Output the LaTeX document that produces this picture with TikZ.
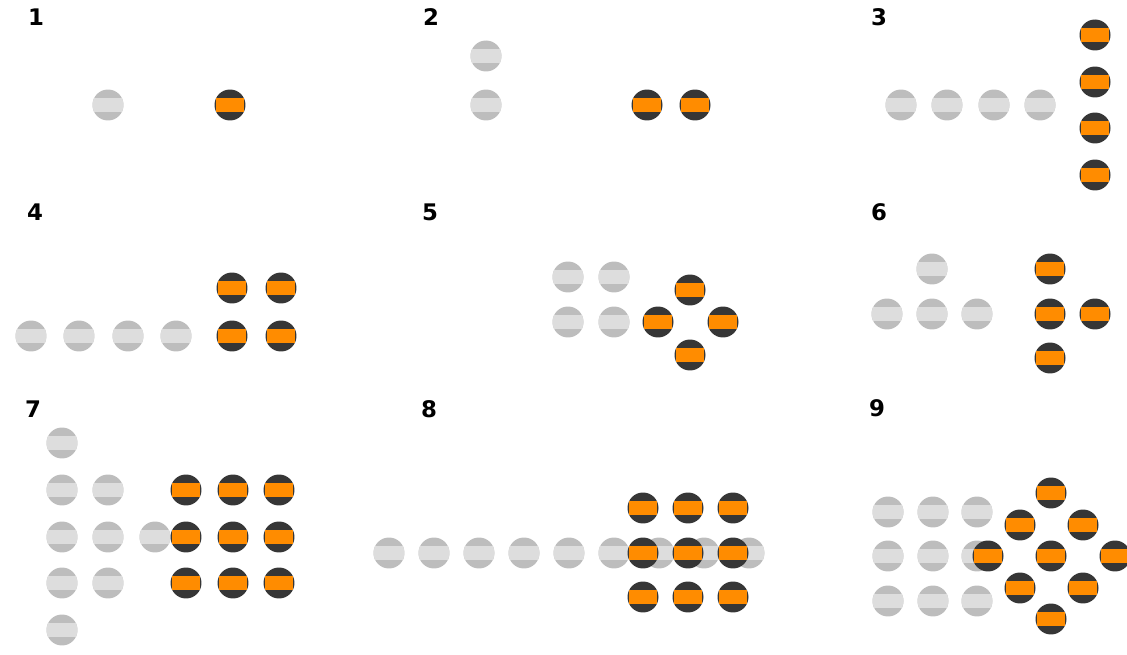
\documentclass[tikz,border=0pt]{standalone}
\usepackage{fontspec}
\setmainfont{DejaVu Sans}
\usepackage{xcolor}
\usepackage{tikz}
\usetikzlibrary{positioning,calc}

\definecolor{idlegrey}{HTML}{BDBDBD}
\definecolor{idleband}{HTML}{DDDDDD}
\definecolor{busydark}{HTML}{363636}
\definecolor{busyband}{HTML}{FF8C00}

\begin{document}
\begin{tikzpicture}[
        x=0.02cm, y=-0.02cm,
        tag/.style={font=\fontsize{13}{15}\selectfont\bfseries, inner sep=0pt},
        idle/.style={circle, fill=idlegrey, minimum size=0.62cm, inner sep=0pt,
            path picture={\fill[idleband] ([shift={(-16,-7)}]path picture bounding box.center) rectangle ([shift={(16,7)}]path picture bounding box.center);}},
        busy/.style={circle, fill=busydark, minimum size=0.62cm, inner sep=0pt,
            path picture={\fill[busyband] ([shift={(-14,-7)}]path picture bounding box.center) rectangle ([shift={(14,7)}]path picture bounding box.center);}}
    ]
    \useasboundingbox (0,0) rectangle (1127,655);

    % Panel 1
    \node[tag] (lab1) at (36,17) {1};
    \node[idle] (c1g1) at (108,105) {};
    \node[busy] (c1b1) at (230,105) {};

    % Panel 2
    \node[tag] (lab2) at (431,17) {2};
    \node[idle] (c2g1) at (486,56) {};
    \node[idle] (c2g2) at (486,105) {};
    \node[busy] (c2b1) at (647,105) {};
    \node[busy] (c2b2) at (695,105) {};

    % Panel 3
    \node[tag] (lab3) at (879,17) {3};
    \foreach \x [count=\i] in {901,947,994,1040}
        \node[idle] (c3g\i) at (\x,105) {};
    \foreach \y [count=\i] in {35,82,128,175}
        \node[busy] (c3b\i) at (1095,\y) {};

    % Panel 4
    \node[tag] (lab4) at (35,212) {4};
    \foreach \x [count=\i] in {31,79,128,176}
        \node[idle] (c4g\i) at (\x,336) {};
    \foreach \x/\y [count=\i] in {232/288,281/288,232/336,281/336}
        \node[busy] (c4b\i) at (\x,\y) {};

    % Panel 5
    \node[tag] (lab5) at (430,212) {5};
    \foreach \x/\y [count=\i] in {568/277,614/277,568/322,614/322}
        \node[idle] (c5g\i) at (\x,\y) {};
    \foreach \x/\y [count=\i] in {690/290,658/322,723/322,690/355}
        \node[busy] (c5b\i) at (\x,\y) {};

    % Panel 6
    \node[tag] (lab6) at (879,212) {6};
    \foreach \x/\y [count=\i] in {932/269,887/314,932/314,977/314}
        \node[idle] (c6g\i) at (\x,\y) {};
    \foreach \x/\y [count=\i] in {1050/269,1050/314,1095/314,1050/358}
        \node[busy] (c6b\i) at (\x,\y) {};

    % Panel 7
    \node[tag] (lab7) at (33,409) {7};
    \foreach \x/\y [count=\i] in {62/443,62/490,62/537,62/583,62/630,108/490,108/537,108/583,155/537}
        \node[idle] (c7g\i) at (\x,\y) {};
    \foreach \y [count=\j] in {490,537,583}
        \foreach \x [count=\i] in {186,233,279}
            \node[busy] (c7b\j\i) at (\x,\y) {};

    % Panel 8
    \node[tag] (lab8) at (429,409) {8};
    \foreach \x [count=\i] in {389,434,...,749}
        \node[idle] (c8g\i) at (\x,553) {};
    \foreach \y [count=\j] in {508,553,597}
        \foreach \x [count=\i] in {643,688,733}
            \node[busy] (c8b\j\i) at (\x,\y) {};

    % Panel 9
    \node[tag] (lab9) at (877,408) {9};
    \foreach \y [count=\j] in {512,556,601}
        \foreach \x [count=\i] in {888,933,977}
            \node[idle] (c9g\j\i) at (\x,\y) {};
    \foreach \x/\y [count=\i] in {1051/493,1020/525,1083/525,988/556,1051/556,1115/556,1020/588,1083/588,1051/619}
        \node[busy] (c9b\i) at (\x,\y) {};

\end{tikzpicture}
\end{document}
